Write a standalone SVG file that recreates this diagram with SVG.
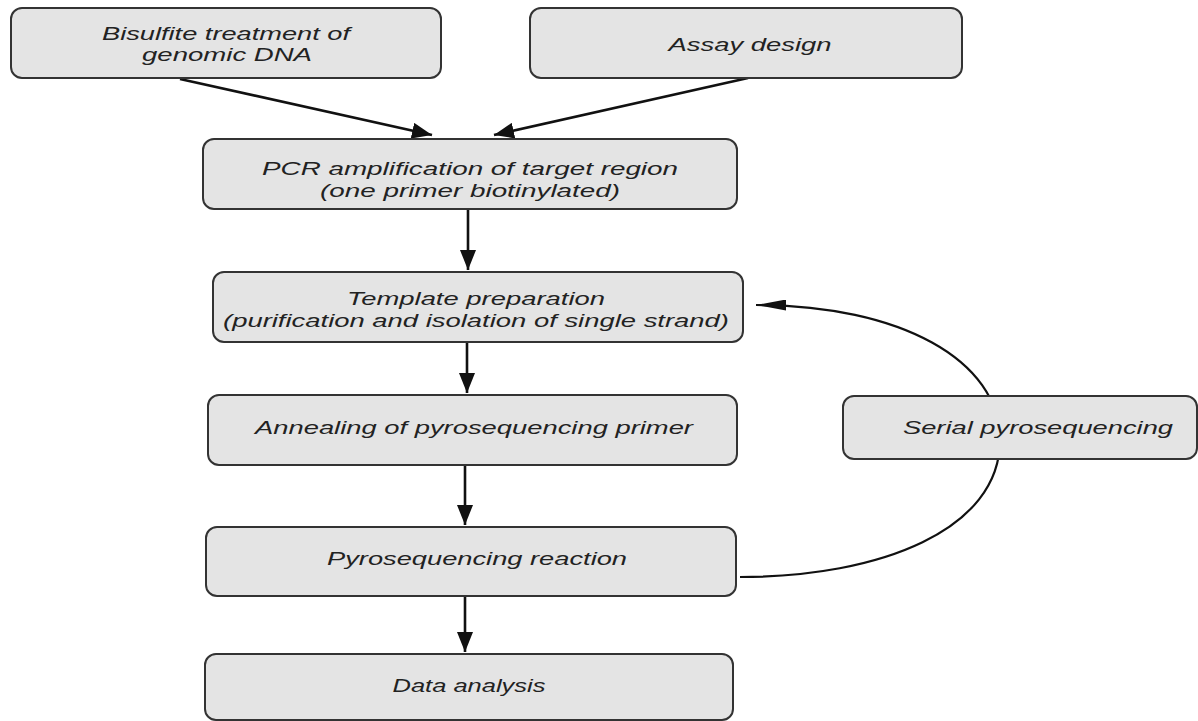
<svg xmlns="http://www.w3.org/2000/svg" width="1198" height="721" viewBox="0 0 1198 721">
<style>
.box{fill:#e4e4e4;stroke:#333;stroke-width:2}
.t{font-family:"Liberation Sans",Arial,sans-serif;font-style:italic;font-size:18px;fill:#222;text-anchor:middle}
.ar{stroke:#111;stroke-width:2.6;fill:none}
.cv{stroke:#111;stroke-width:2.2;fill:none}
</style>
<defs>
<marker id="ah" markerUnits="userSpaceOnUse" markerWidth="20" markerHeight="16" refX="20" refY="8" orient="auto">
<path d="M0,0 L20,8 L0,16 z" fill="#111"/>
</marker>
<marker id="ahc" markerUnits="userSpaceOnUse" markerWidth="30" markerHeight="11" refX="30" refY="5.5" orient="auto">
<path d="M0,0 L30,5.5 L0,11 z" fill="#111"/>
</marker>
</defs>
<rect x="0" y="0" width="1198" height="721" fill="#fff"/>
<g id="connectors">
<line class="ar" x1="180" y1="79" x2="432" y2="135" marker-end="url(#ah)"/>
<line class="ar" x1="748" y1="78" x2="494" y2="135" marker-end="url(#ah)"/>
<line class="ar" x1="468" y1="210" x2="468" y2="270" marker-end="url(#ah)"/>
<line class="ar" x1="467" y1="343" x2="467" y2="393" marker-end="url(#ah)"/>
<line class="ar" x1="465" y1="466" x2="465" y2="525" marker-end="url(#ah)"/>
<line class="ar" x1="465" y1="597" x2="465" y2="652" marker-end="url(#ah)"/>
<path class="cv" d="M740,577 C880,577 1000,530 1000,440 C1000,360 900,305 756,305" marker-end="url(#ahc)"/>
</g>
<g id="bisulfite">
<rect class="box" x="11" y="8" width="430" height="70" rx="11"/>
<text class="t" x="226" y="40" textLength="248" lengthAdjust="spacingAndGlyphs">Bisulfite treatment of</text>
<text class="t" x="227" y="61" textLength="170" lengthAdjust="spacingAndGlyphs">genomic DNA</text>
</g>
<g id="assay">
<rect class="box" x="530" y="8" width="432" height="70" rx="11"/>
<text class="t" x="750" y="51" textLength="163" lengthAdjust="spacingAndGlyphs">Assay design</text>
</g>
<g id="pcr">
<rect class="box" x="203" y="139" width="534" height="70" rx="11"/>
<text class="t" x="470" y="175" textLength="416" lengthAdjust="spacingAndGlyphs">PCR amplification of target region</text>
<text class="t" x="470" y="197" textLength="300" lengthAdjust="spacingAndGlyphs">(one primer biotinylated)</text>
</g>
<g id="template">
<rect class="box" x="213" y="272" width="530" height="70" rx="11"/>
<text class="t" x="476" y="305" textLength="258" lengthAdjust="spacingAndGlyphs">Template preparation</text>
<text class="t" x="476" y="327" textLength="506" lengthAdjust="spacingAndGlyphs">(purification and isolation of single strand)</text>
</g>
<g id="annealing">
<rect class="box" x="208" y="395" width="529" height="70" rx="11"/>
<text class="t" x="474" y="434" textLength="438" lengthAdjust="spacingAndGlyphs">Annealing of pyrosequencing primer</text>
</g>
<g id="pyro">
<rect class="box" x="206" y="527" width="530" height="69" rx="11"/>
<text class="t" x="477" y="565" textLength="300" lengthAdjust="spacingAndGlyphs">Pyrosequencing reaction</text>
</g>
<g id="data">
<rect class="box" x="205" y="654" width="528" height="66" rx="11"/>
<text class="t" x="469" y="692" textLength="153" lengthAdjust="spacingAndGlyphs">Data analysis</text>
</g>
<g id="serial">
<rect class="box" x="843" y="396" width="354" height="63" rx="11"/>
<text class="t" x="1038" y="434" textLength="270" lengthAdjust="spacingAndGlyphs">Serial pyrosequencing</text>
</g>
</svg>
